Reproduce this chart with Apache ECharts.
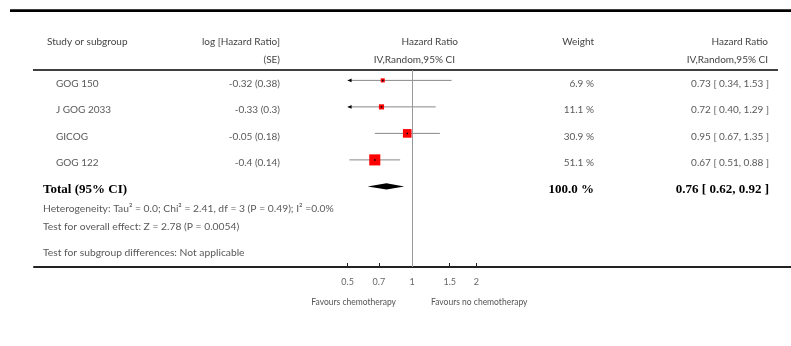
<!DOCTYPE html>
<html>
<head>
<meta charset="utf-8">
<script src="https://cdn.jsdelivr.net/npm/echarts@6/dist/echarts.min.js"></script>
<style>
  html, body { margin: 0; padding: 0; background: #fff; }
  #chart { width: 791px; height: 346px; }
</style>
</head>
<body>
<div id="chart"></div>
<script>
// study rows
var studies = ['GOG 150', 'J GOG 2033', 'GICOG', 'GOG 122'];
var logHR = [-0.32, -0.33, -0.05, -0.4];
var se = [0.38, 0.3, 0.18, 0.14];
var weights = [6.9, 11.1, 30.9, 51.1];
var hr = [0.73, 0.72, 0.95, 0.67];
var hrLow = [0.34, 0.40, 0.67, 0.51];
var hrHigh = [1.53, 1.29, 1.35, 0.88];

// pooled estimate
var totalLabel = 'Total (95% CI)';
var totalWeight = 100.0;
var totalHR = [0.76, 0.62, 0.92];

// axis
var tickValues = [0.5, 0.7, 1, 1.5, 2];
var plotRange = [0.5, 2];

var footerLines = [
  'Heterogeneity: Tau\u00b2 = 0.0; Chi\u00b2 = 2.41, df = 3 (P = 0.49); I\u00b2 =0.0%',
  'Test for overall effect: Z = 2.78 (P = 0.0054)',
  'Test for subgroup differences: Not applicable'
];

var FONT = '10px Lato, "Open Sans", sans-serif';
var FOOT = '10.3px Lato, "Open Sans", sans-serif';
var BOLD = 'bold 13px "Liberation Serif", "DejaVu Serif", serif';
var GREY = '#595959';

function fmtCI(v, lo, hi) {
  return v.toFixed(2) + ' [ ' + lo.toFixed(2) + ', ' + hi.toFixed(2) + ' ]';
}

function txt(x, y, s, align, font, color) {
  return {
    type: 'text',
    style: {
      x: x, y: y, text: s,
      align: align, textAlign: align,
      verticalAlign: 'middle', textVerticalAlign: 'middle',
      font: font || FONT, fill: color || GREY
    },
    silent: true
  };
}

var rows = studies.map(function (s, i) { return [i]; });
rows.push([studies.length]);

var chart = echarts.init(document.getElementById('chart'));

function renderRow(params, api) {
  var i = api.value(0);
  var y = api.coord([1, i])[1];
  var ty = y + 3;
  var kids = [];
  if (i < studies.length) {
    var lo = Math.max(hrLow[i], plotRange[0]);
    var hi = Math.min(hrHigh[i], plotRange[1]);
    var x0 = api.coord([lo, i])[0];
    var x1 = api.coord([hi, i])[0];
    var xc = api.coord([hr[i], i])[0];
    kids.push({ type: 'line', shape: { x1: x0, y1: y, x2: x1, y2: y },
      style: { stroke: '#888', lineWidth: 1 } });
    // CI runs past the plotted range: arrow at the edge
    if (hrLow[i] < plotRange[0]) {
      kids.push({ type: 'polygon', shape: { points: [[x0, y], [x0 + 4, y - 1.8], [x0 + 4, y + 1.8]] },
        style: { fill: '#000' } });
    }
    var sz = 1.55 * Math.sqrt(weights[i]);
    kids.push({ type: 'rect', shape: { x: xc - sz / 2, y: y - sz / 2, width: sz, height: sz },
      style: { fill: '#ff0000' } });
    kids.push({ type: 'rect', shape: { x: xc - 0.75, y: y - 0.75, width: 1.5, height: 1.5 },
      style: { fill: '#000' } });
    kids.push(txt(56, ty, studies[i], 'left'));
    kids.push(txt(280, ty, logHR[i] + ' (' + se[i] + ')', 'right'));
    kids.push(txt(594, ty, weights[i].toFixed(1) + ' %', 'right'));
    kids.push(txt(769, ty, fmtCI(hr[i], hrLow[i], hrHigh[i]), 'right'));
  } else {
    var dl = api.coord([totalHR[1], i])[0];
    var dc = api.coord([totalHR[0], i])[0];
    var dr = api.coord([totalHR[2], i])[0];
    kids.push({ type: 'polygon', shape: { points: [[dl, y], [dc, y - 3.2], [dr, y], [dc, y + 3.2]] },
      style: { fill: '#000' } });
    kids.push(txt(43, ty, totalLabel, 'left', BOLD, '#000'));
    kids.push(txt(594, ty, totalWeight.toFixed(1) + ' %', 'right', BOLD, '#000'));
    kids.push(txt(769, ty, fmtCI(totalHR[0], totalHR[1], totalHR[2]), 'right', BOLD, '#000'));
  }
  return { type: 'group', children: kids };
}

var graphics = [
  { type: 'line', shape: { x1: 10, y1: 10.7, x2: 791, y2: 10.7 }, style: { stroke: '#000', lineWidth: 2.8 } },
  { type: 'line', shape: { x1: 33, y1: 70, x2: 778, y2: 70 }, style: { stroke: '#000', lineWidth: 1.3 } },
  txt(47, 42, 'Study or subgroup', 'left', null, '#444'),
  txt(280, 42, 'log [Hazard Ratio]', 'right', null, '#444'),
  txt(280, 60, '(SE)', 'right', null, '#444'),
  txt(458, 42, 'Hazard Ratio', 'right', null, '#444'),
  txt(455, 60, 'IV,Random,95% CI', 'right', null, '#444'),
  txt(594, 42, 'Weight', 'right', null, '#444'),
  txt(768, 42, 'Hazard Ratio', 'right', null, '#444'),
  txt(768, 60, 'IV,Random,95% CI', 'right', null, '#444'),
  txt(43, 208.3, footerLines[0], 'left', FOOT),
  txt(43, 226.5, footerLines[1], 'left', FOOT),
  txt(43, 252.5, footerLines[2], 'left', FOOT),
  txt(396, 302, 'Favours chemotherapy', 'right', '8.5px Lato, sans-serif', '#555'),
  txt(431, 302, 'Favours no chemotherapy', 'left', '8.5px Lato, sans-serif', '#555')
];

var option = {
  animation: false,
  backgroundColor: '#fff',
  grid: { left: 34, right: 0, top: 70, bottom: 79 },
  xAxis: {
    type: 'log',
    logBase: 10,
    min: 0.01713,
    max: 59.0,
    splitLine: { show: false },
    axisLine: { onZero: false, lineStyle: { color: '#222', width: 2 } },
    axisTick: { inside: true, length: 4, customValues: tickValues, lineStyle: { color: '#222' } },
    axisLabel: {
      customValues: tickValues, margin: 11, color: '#666', fontSize: 9, fontFamily: 'Lato',
      formatter: function (v) { return String(+(+v).toFixed(2)); }
    }
  },
  yAxis: {
    type: 'value', inverse: true, min: -0.392, max: 7.042, show: false
  },
  graphic: graphics,
  series: [
    {
      type: 'custom',
      clip: false,
      data: rows,
      encode: { y: 0 },
      renderItem: renderRow,
      markLine: {
        silent: true, symbol: 'none', label: { show: false },
        lineStyle: { color: '#999', width: 1, type: 'solid' },
        data: [{ xAxis: 1 }]
      }
    }
  ]
};
chart.setOption(option);
</script>
</body>
</html>
